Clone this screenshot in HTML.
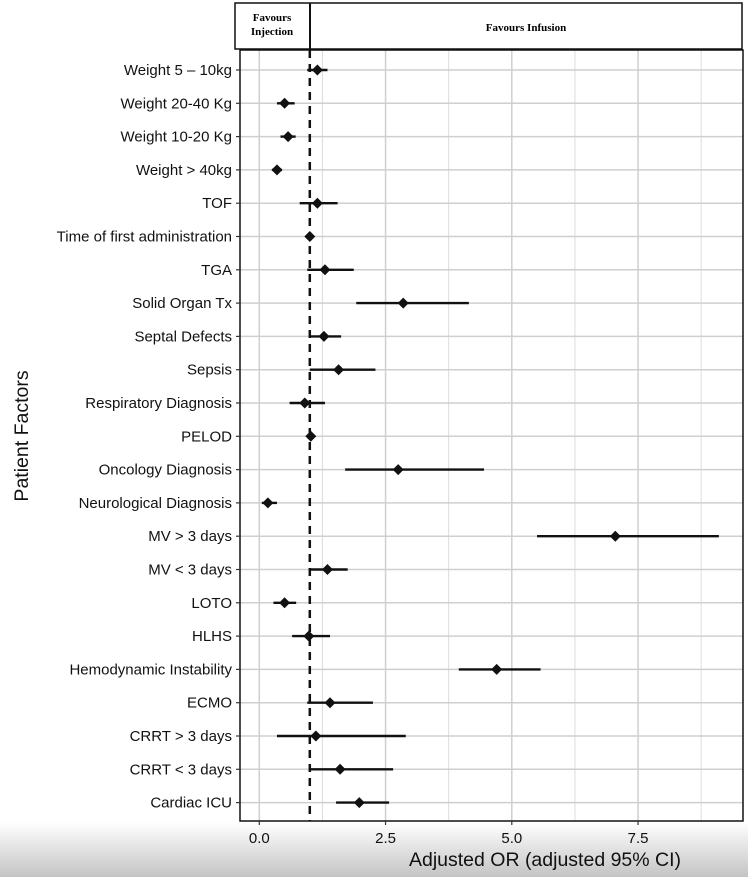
<!DOCTYPE html>
<html><head><meta charset="utf-8">
<style>
body{margin:0;background:#fff;}
svg{display:block;font-family:"Liberation Sans",Arial,sans-serif;}
</style></head>
<body>
<svg id="c" width="748" height="877" viewBox="0 0 748 877">
<defs><linearGradient id="g" x1="0" y1="0" x2="0" y2="1"><stop offset="0" stop-color="#fff"/><stop offset="1" stop-color="#c4c4c4"/></linearGradient></defs>
<rect x="0" y="822" width="748" height="55" fill="url(#g)"/>
<g id="hdr">
<rect x="235" y="3" width="507" height="46" fill="#fff" stroke="#111" stroke-width="1.5"/>
<line x1="310" y1="3" x2="310" y2="49" stroke="#111" stroke-width="2"/>
<text x="272" y="21" text-anchor="middle" font-family="Liberation Serif,serif" font-weight="bold" font-size="11">Favours</text>
<text x="272" y="35" text-anchor="middle" font-family="Liberation Serif,serif" font-weight="bold" font-size="11">Injection</text>
<text x="526" y="31" text-anchor="middle" font-family="Liberation Serif,serif" font-weight="bold" font-size="11">Favours Infusion</text>
</g>
<g id="grid"></g>
<g id="marks"></g>
<rect x="240" y="50" width="503" height="771" fill="none" stroke="#111" stroke-width="1.5"/>
<g id="axes"></g>
<text x="545" y="866" text-anchor="middle" font-size="19.5" fill="#111">Adjusted OR (adjusted 95% CI)</text>
<text transform="translate(28,436) rotate(-90)" text-anchor="middle" font-size="19.5" fill="#111">Patient Factors</text>
</svg>
<script>
const categories=["Weight 5 – 10kg","Weight 20-40 Kg","Weight 10-20 Kg","Weight > 40kg","TOF","Time of first administration","TGA","Solid Organ Tx","Septal Defects","Sepsis","Respiratory Diagnosis","PELOD","Oncology Diagnosis","Neurological Diagnosis","MV > 3 days","MV < 3 days","LOTO","HLHS","Hemodynamic Instability","ECMO","CRRT > 3 days","CRRT < 3 days","Cardiac ICU"];
const estimates=[1.15,0.5,0.57,0.35,1.15,1.0,1.3,2.85,1.28,1.57,0.9,1.02,2.75,0.17,7.05,1.35,0.5,0.98,4.7,1.4,1.12,1.6,1.98];
const lower=[0.95,0.35,0.42,0.25,0.8,0.97,0.95,1.92,1.0,1.0,0.6,0.98,1.7,0.05,5.5,1.0,0.28,0.65,3.95,0.95,0.35,1.0,1.52];
const upper=[1.35,0.7,0.72,0.45,1.55,1.03,1.87,4.15,1.62,2.3,1.3,1.07,4.45,0.35,9.1,1.75,0.73,1.4,5.57,2.25,2.9,2.65,2.57];
const xTicks=[0,2.5,5,7.5];
const xTickLabels=["0.0","2.5","5.0","7.5"];
const refValue=1;
const NS="http://www.w3.org/2000/svg";
const x=v=>259.3+v*50.5;
const y=i=>70+i*33.3;
function mk(tag,attrs,parent){const e=document.createElementNS(NS,tag);for(const k in attrs)e.setAttribute(k,attrs[k]);document.getElementById(parent).appendChild(e);return e;}
const minor=[1.25,3.75,6.25,8.75];
minor.forEach(v=>{const l=mk("line",{x1:x(v),x2:x(v),y1:50,y2:821,stroke:"#dcdcdc","stroke-width":1},"grid");

});
xTicks.forEach((v,i)=>{const l=mk("line",{x1:x(v),x2:x(v),y1:50,y2:821,stroke:"#cfcfcf","stroke-width":1.5},"grid");


const t=mk("line",{x1:x(v),x2:x(v),y1:821,y2:825,stroke:"#333","stroke-width":1.2},"axes");


const tx=mk("text",{x:x(v),y:843,"text-anchor":"middle","font-size":15,fill:"#111"},"axes");tx.textContent=xTickLabels[i];

});
categories.forEach((c,i)=>{const g=mk("line",{x1:240,x2:743,y1:y(i),y2:y(i),stroke:"#cfcfcf","stroke-width":1.5},"grid");


const t=mk("line",{x1:236,x2:240,y1:y(i),y2:y(i),stroke:"#333","stroke-width":1.2},"axes");


const tx=mk("text",{x:232,y:y(i)+5,"text-anchor":"end","font-size":15,fill:"#111"},"axes");tx.textContent=c;

});
const ref=mk("line",{x1:x(refValue),x2:x(refValue),y1:50,y2:821,stroke:"#111","stroke-width":2.5,"stroke-dasharray":"8,6"},"marks");


categories.forEach((c,i)=>{const l=mk("line",{x1:x(lower[i]),x2:x(upper[i]),y1:y(i),y2:y(i),stroke:"#111","stroke-width":2.4},"marks");


const cx=x(estimates[i]),cy=y(i),r=5.5;
const p=mk("polygon",{points:`${cx},${cy-r} ${cx+r},${cy} ${cx},${cy+r} ${cx-r},${cy}`,fill:"#111"},"marks");

});
</script>
</body></html>
